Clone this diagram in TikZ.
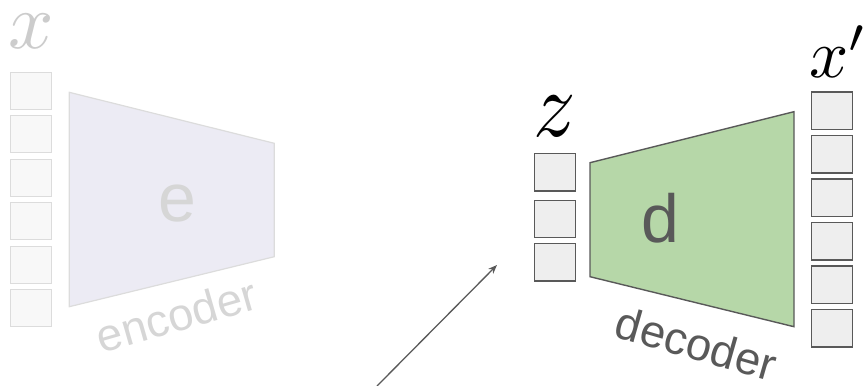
\documentclass[tikz,border=0pt]{standalone}
\usepackage{fontspec}
\setmainfont{Liberation Sans}
\usetikzlibrary{arrows.meta}
\definecolor{faintline}{HTML}{DCDCDC}
\definecolor{faintfill}{HTML}{F8F8F8}
\definecolor{encfill}{HTML}{ECEBF4}
\definecolor{fainttext}{HTML}{D6D6D6}
\definecolor{faintmath}{HTML}{CCCCCC}
\definecolor{darkline}{HTML}{595959}
\definecolor{cellfill}{HTML}{EEEEEE}
\definecolor{decfill}{HTML}{B6D7A8}
\tikzset{
  faintcell/.style={draw=faintline, fill=faintfill, line width=1.2bp,
    minimum width=41bp, minimum height=37bp, inner sep=0pt},
  cell/.style={draw=darkline, fill=cellfill, line width=1.4bp,
    minimum width=40.5bp, minimum height=37.5bp, inner sep=0pt},
  bigletter/.style={font=\fontsize{68bp}{68bp}\selectfont, inner sep=0pt, anchor=base},
  caption/.style={font=\fontsize{45.5bp}{45.5bp}\selectfont, inner sep=0pt, anchor=base},
  mathlabel/.style={inner sep=0pt, font=\fontsize{10pt}{12pt}\selectfont},
}
\begin{document}
\begin{tikzpicture}[x=1bp,y=-1bp]
\useasboundingbox (0,0) rectangle (865,385);

% ---- encoder side (faded) ----
\foreach \i in {0,...,5}
  \node[faintcell] (xin\i) at (31.2, 90.8+43.45*\i) {};
\node[mathlabel, text=faintmath] (xlab) at (31.7,31.5) {\scalebox{8}{$x$}};
\draw[draw=faintline, fill=encfill, line width=1.2bp]
  (69.3,92.3) -- (274.3,143.3) -- (274.3,256.7) -- (69.3,306.7) -- cycle;
\node[bigletter, text=fainttext] (elab) at (177,221) {e};
\node[caption, text=fainttext, rotate=16] (enclab) at (181,331) {encoder};

% ---- latent code ----
\node[cell] (z0) at (555,172.2) {};
\node[cell] (z1) at (555,219) {};
\node[cell] (z2) at (555,262.2) {};
\node[mathlabel] (zlab) at (555,116.5) {\scalebox{8.4}[9.4]{$z$}};

% ---- decoder ----
\draw[draw=darkline, fill=decfill, line width=1.4bp]
  (590,162.7) -- (794,111.7) -- (794,326.7) -- (590,276.7) -- cycle;
\node[bigletter, text=darkline] (dlab) at (660.5,242.5) {d};
\node[caption, text=darkline, rotate=-16] (declab) at (692,359) {decoder};

% ---- reconstruction ----
\foreach \i in {0,...,5}
  \node[cell] (xout\i) at (832, 110.9+43.45*\i) {};
\node[mathlabel, anchor=base west] (xplab) at (809,77) {\scalebox{6.9}{$x'$}};

% ---- incoming arrow ----
\coordinate (arrfrom) at (377,386);
\coordinate (arrto) at (497,265);
\draw[darkline, line width=1.3bp, -{Stealth[length=9bp,width=7bp]}] (arrfrom) -- (arrto);
\end{tikzpicture}
\end{document}
